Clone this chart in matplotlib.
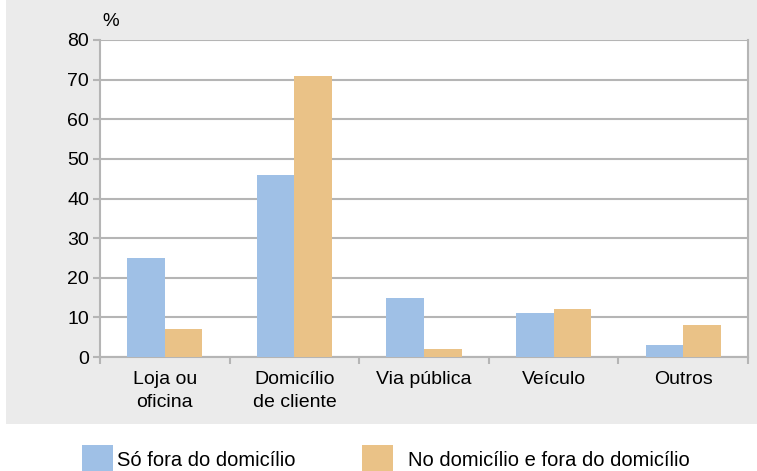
import numpy as np
import matplotlib.pyplot as plt
from matplotlib.patches import Rectangle

categories = ["Loja ou\noficina", "Domicílio\nde cliente", "Via pública", "Veículo", "Outros"]
so_fora = [25, 46, 15, 11, 3]
no_e_fora = [7, 71, 2, 12, 8]
series_names = ["Só fora do domicílio", "No domicílio e fora do domicílio"]
yticks = [0, 10, 20, 30, 40, 50, 60, 70, 80]

blue = '#9fc0e6'
orange = '#eac287'
grid = '#b5b5b5'

plt.rcParams['font.family'] = ['Liberation Sans', 'DejaVu Sans']

W, H = 757, 471
fig = plt.figure(figsize=(W / 100, H / 100), dpi=100)
fig.patch.set_facecolor('white')

# grey panel behind the chart
fig.patches.append(Rectangle((6 / W, 1 - 424 / H), 1 - 6 / W, 424 / H,
                             transform=fig.transFigure, facecolor='#ebebeb',
                             edgecolor='none', zorder=-5))

ax = fig.add_axes([100 / W, 1 - 357 / H, 648 / W, 317 / H])
ax.set_facecolor('white')

x = np.arange(len(categories))
bw = 0.29
ax.bar(x - bw / 2, so_fora, bw, color=blue, zorder=3)
ax.bar(x + bw / 2, no_e_fora, bw, color=orange, zorder=3)

ax.set_xlim(-0.5, len(categories) - 0.5)
ax.set_ylim(0, 80)
ax.set_yticks(yticks)
ax.yaxis.grid(True, color=grid, linewidth=1.5, zorder=1)
ax.set_axisbelow(True)

ax.set_xticks(x)
ax.set_xticklabels(categories, fontsize=14, linespacing=1.5, va='top')
ax.tick_params(axis='x', length=0, pad=10)
ax.set_xticks(np.arange(len(categories) + 1) - 0.5, minor=True)
ax.tick_params(axis='x', which='minor', length=5, width=1.5, color=grid)
ax.tick_params(axis='y', length=5, width=1.5, color=grid, labelsize=14, pad=3)

for side in ['left', 'right', 'bottom']:
    ax.spines[side].set_color(grid)
    ax.spines[side].set_linewidth(1.5)
ax.spines['top'].set_visible(False)

ax.text(0.003, 1.03, "%", transform=ax.transAxes, fontsize=13.5, ha='left', va='bottom')

# legend below the panel
fig.patches.append(Rectangle((82 / W, 0), 31 / W, 26 / H, transform=fig.transFigure,
                             facecolor=blue, edgecolor='none'))
fig.text(117 / W, 11 / H, series_names[0], fontsize=14.5, va='center', ha='left')
fig.patches.append(Rectangle((362 / W, 0), 31 / W, 26 / H, transform=fig.transFigure,
                             facecolor=orange, edgecolor='none'))
fig.text(408 / W, 11 / H, series_names[1], fontsize=14.5, va='center', ha='left')

fig.savefig('out.png', dpi=100)
